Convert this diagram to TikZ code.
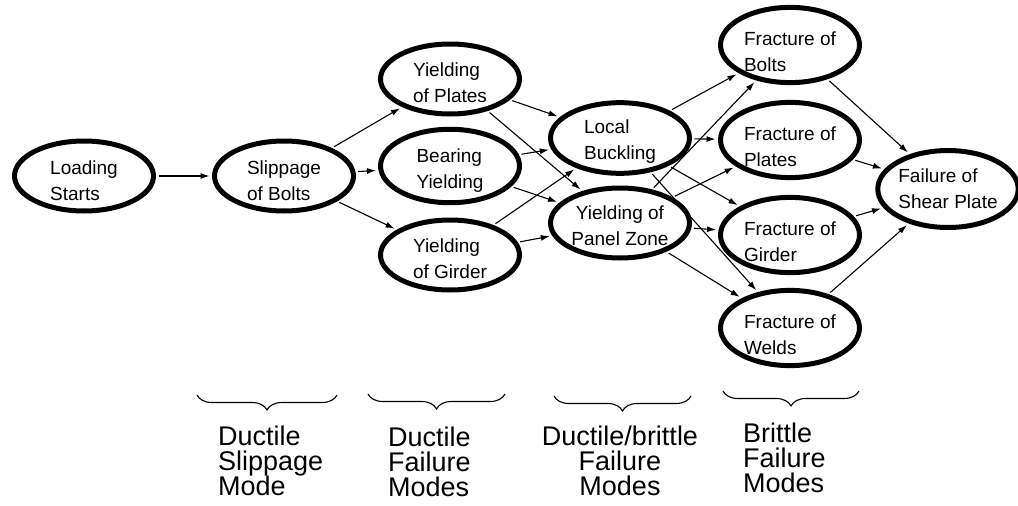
\documentclass[tikz,border=0pt]{standalone}
\usepackage{fontspec}
\setmainfont{Liberation Sans}
\usetikzlibrary{shapes.geometric,arrows.meta,decorations.pathreplacing}
\lineskiplimit=-20pt
\newcommand{\myhstrut}[1]{\rule{0pt}{#1pt}}
\begin{document}
\begin{tikzpicture}[x=1pt,y=-1pt,
  ev/.style={ellipse,draw,line width=5pt,minimum width=139pt,minimum height=70pt,inner sep=0pt,align=left,
    font=\fontsize{19}{26}\selectfont},
  link/.style={-{Latex[length=9pt,width=6pt]},line width=1.1pt,shorten >=2.5pt,shorten <=2.5pt},
  grp/.style={decorate,decoration={brace,mirror,amplitude=15pt},line width=1.1pt},
  grplabel/.style={inner sep=0pt,align=left,font=\fontsize{27}{25}\selectfont}]
\useasboundingbox (0,0) rectangle (1018,506);

% nodes
\node[ev] (LS) at (84,176) {\myhstrut{23}Loading\\Starts};
\node[ev] (SB) at (284,176) {\myhstrut{23}Slippage\\of Bolts};
\node[ev] (YP) at (450,79) {\myhstrut{22}Yielding\\of Plates};
\node[ev] (BY) at (450,166) {\myhstrut{22}Bearing\\Yielding};
\node[ev] (YG) at (450,255) {\myhstrut{22}Yielding\\of Girder};
\node[ev] (LB) at (620,138) {\myhstrut{20}Local\\Buckling};
\node[ev,align=center] (PZ) at (620,223) {\myhstrut{20}Yielding of\\Panel Zone};
\node[ev] (FB) at (790,45) {\myhstrut{27}Fracture of\\Bolts};
\node[ev] (FP) at (790,140) {\myhstrut{27}Fracture of\\Plates};
\node[ev] (FG) at (790,235) {\myhstrut{27}Fracture of\\Girder};
\node[ev] (FW) at (790,328) {\myhstrut{27}Fracture of\\Welds};
\node[ev,minimum width=135pt,minimum height=77pt] (FS) at (948,189) {\myhstrut{14}Failure of\\Shear Plate};

% connectors
\draw[link] (LS) -- (SB);
\foreach \t in {YP,BY,YG} \draw[link] (SB) -- (\t);
\foreach \s in {YP,BY,YG} {\draw[link] (\s) -- (LB); \draw[link] (\s) -- (PZ);}
\foreach \s in {LB,PZ} {\foreach \t in {FB,FP,FG,FW} \draw[link] (\s) -- (\t);}
\foreach \s in {FB,FP,FG,FW} \draw[link] (\s) -- (FS);

% braces
\coordinate (b1a) at (197,395); \coordinate (b1b) at (337,395);
\coordinate (b2a) at (368,394); \coordinate (b2b) at (505,394);
\coordinate (b3a) at (554,396); \coordinate (b3b) at (691,396);
\coordinate (b4a) at (723,391); \coordinate (b4b) at (859,391);
\draw[grp] (b1a) -- (b1b);
\draw[grp] (b2a) -- (b2b);
\draw[grp] (b3a) -- (b3b);
\draw[grp] (b4a) -- (b4b);

% group labels
\node[grplabel,anchor=north west] (g1) at (218,426) {Ductile\\Slippage\\Mode};
\node[grplabel,anchor=north west] (g2) at (388,427) {Ductile\\Failure\\Modes};
\node[grplabel,anchor=north,align=center] (g3) at (620,426) {Ductile/brittle\\Failure\\Modes};
\node[grplabel,anchor=north west] (g4) at (743,423) {Brittle\\Failure\\Modes};
\end{tikzpicture}
\end{document}
